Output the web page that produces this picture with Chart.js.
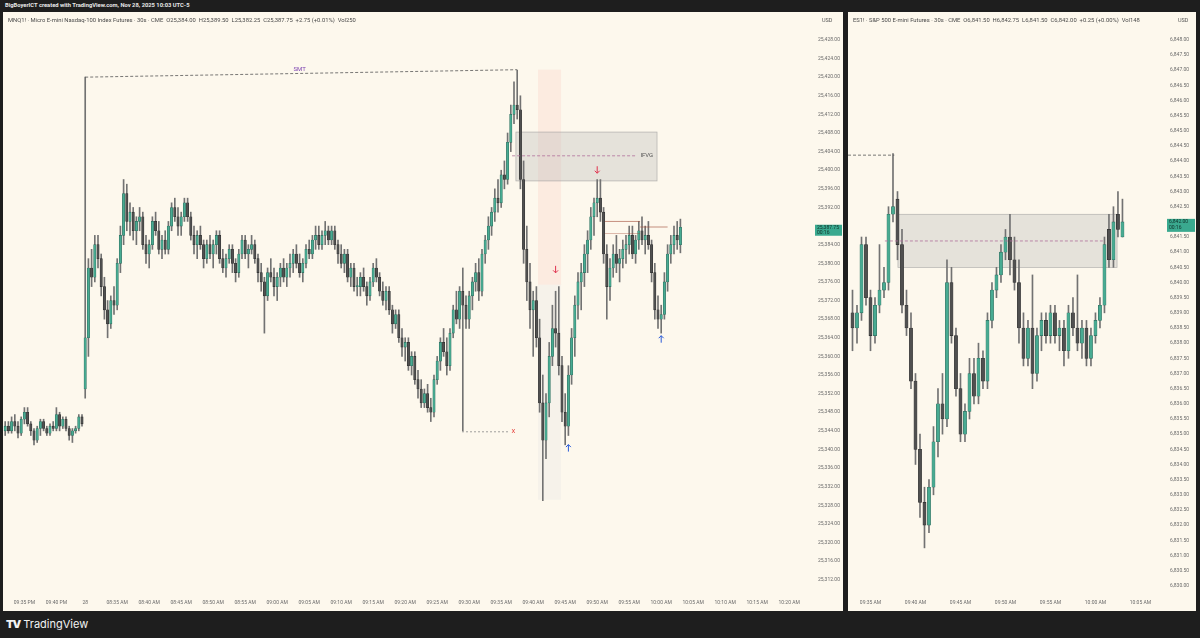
<!DOCTYPE html>
<html>
<head>
<meta charset="utf-8">
<script src="https://cdn.jsdelivr.net/npm/chart.js@4.4.1/dist/chart.umd.min.js"></script>
<style>
  body { margin: 0; width: 1200px; height: 638px; overflow: hidden; background: #1e1e1e; font-family: Roboto, "Liberation Sans", sans-serif; }
  #top { position: absolute; left: 5px; top: 2px; color: #e8e8e8; font-size: 5.8px; font-weight: bold; white-space: nowrap; }
  .pane { position: absolute; top: 12px; height: 599px; background: #fdf8ed; }
  #paneL { left: 3px; width: 840px; }
  #paneR { left: 848px; width: 348px; }
  .pane canvas { position: absolute; left: 0; top: 0; }
  .legend { position: absolute; left: 5px; top: 5px; font-size: 5.85px; color: #4a4a4a; white-space: nowrap; }
  .usd { position: absolute; top: 5px; font-size: 5.5px; color: #555; }
  #logo { position: absolute; left: 6px; top: 617px; color: #f2f2f2; font-size: 11px; font-family: Inter, Roboto, sans-serif; white-space: nowrap; }
  #logo b { font-weight: 900; letter-spacing: -1px; margin-right: 3px; }
</style>
</head>
<body>
<div id="top">BigBoyerICT created with TradingView.com, Nov 28, 2025 10:03 UTC-5</div>
<div class="pane" id="paneL">
  <canvas id="chartL" width="840" height="599"></canvas>
  <div class="legend">MNQ1! · Micro E-mini Nasdaq-100 Index Futures · 30s · CME &nbsp;O25,384.00 &nbsp;H25,389.50 &nbsp;L25,382.25 &nbsp;C25,387.75 &nbsp;+2.75 (+0.01%) &nbsp;Vol250</div>
  <div class="usd" style="left:819px">USD</div>
</div>
<div class="pane" id="paneR">
  <canvas id="chartR" width="348" height="599"></canvas>
  <div class="legend">ES1! · S&amp;P 500 E-mini Futures · 30s · CME &nbsp;O6,841.50 &nbsp;H6,842.75 &nbsp;L6,841.50 &nbsp;C6,842.00 &nbsp;+0.25 (+0.00%) &nbsp;Vol148</div>
  <div class="usd" style="left:330px">USD</div>
</div>
<div id="logo"><b>TV</b>TradingView</div>
<script>
// ---- MNQ1! 30s (left) ----
const leftFirstBar = 1;
const leftOpen = [
25344,25345,25344,25346,25345,25343.5,25346.5,25348,25345.5,25344,25342,25344.5,25346,25344.5,25343.5,25345,25344.5,25347.5,25345,25346.5,25344.5,25343,25344,25344.5,25347,
25353,25364,25379,25377,25384,25381,25375,25370,25367,25372,25371,25380,25386,25395,25389,25391,25387,25389,25390,25384,25382,25384,25389,25387,25383,
25385,25383,25388,25392,25390,25388,25390,25393,25390,25386,25384,25386,25384,25381,25384,25382,25384,25386,25381,25379,25381,25383,25380,25378,25382,
25385,25382,25383,25384,25381,25378,25376,25373,25378,25377,25375,25377,25379,25377,25379,25380,25382,25380,25378,25380,25383,25382,25385,25386,25384,
25386,25387,25385,25387,25384,25382,25380,25382,25377,25379,25375,25375,25377,25375,25373,25376,25379,25377,25374,25372,25374,25370,25367,25369,25364,25362,
25363,25358,25360,25355,25353,25350,25352,25349,25348,25355,25359,25363,25361,25358,25365,25370,25368,25374,25371,25368,25373,25376,25378,25374,25382,
25385,25388,25391,25394,25393,25399,25398,25406,25412,25414,25413,25398,25383,25376,25370,25372,25364,25350,25342,25350,25360,25366,25365,25358,25348,
25345,25356,25364,25371,25376,25378,25382,25385,25390,25393,25394,25391,25382,25375,25379,25382,25380,25381,25383,25384,25386,25382,25385,25387,25385,
25386,25384,25378,25370,25368,25369,25376,25382,25384,25386,25384];
const leftHigh = [
25346,25346,25347,25347.5,25346,25347,25349,25349,25346,25344.5,25345,25346.5,25346.5,25345,25345.5,25346,25349,25348,25347,25347,25345,25344.5,25345,25347.5,25347.5,
25420,25381,25383,25386,25386,25382,25377,25372,25373,25375,25381,25388,25398,25397,25393,25392,25390,25392,25391,25386,25385,25390,25391,25389,25386,
25387,25389,25393,25394,25392,25391,25394,25394,25391,25388,25387,25388,25385,25385,25386,25385,25387,25387,25383,25382,25384,25384,25381,25383,25386,
25386,25384,25386,25385,25382,25380,25377,25379,25381,25379,25378,25380,25381,25380,25382,25383,25384,25382,25381,25384,25385,25386,25388,25388,25387,
25389,25388,25388,25388,25385,25384,25383,25383,25380,25380,25377,25378,25379,25376,25377,25380,25381,25378,25376,25375,25375,25371,25370,25370,25366,25364,
25364,25361,25361,25357,25355,25353,25354,25351,25356,25360,25364,25366,25364,25366,25371,25374,25375,25379,25373,25374,25377,25380,25381,25383,25386,
25390,25392,25396,25398,25400,25402,25408,25414,25419,25421.5,25416,25402,25388,25380,25374,25375,25368,25356,25352,25363,25371,25374,25375,25360,25352,
25358,25366,25373,25378,25380,25384,25387,25392,25394,25398,25398,25392,25384,25381,25384,25386,25383,25385,25386,25388,25388,25386,25389,25390,25388,
25389,25385,25380,25373,25371,25378,25384,25386,25388,25389,25389.5];
const leftLow = [
25343,25343.5,25343.5,25344,25342.5,25343,25345.5,25345,25343,25341,25341.5,25343,25344,25343,25343,25344,25344,25344,25344.5,25344,25342,25341.5,25343.5,25344,25345,
25351,25360,25375,25376,25379,25373,25368,25364,25366,25369,25370,25378,25384,25387,25386,25385,25384,25387,25383,25380,25379,25383,25386,25382,25381,
25382,25382,25387,25389,25386,25386,25389,25389,25385,25382,25381,25383,25379,25380,25381,25379,25382,25380,25378,25377,25380,25378,25376,25377,25381,
25381,25379,25382,25380,25376,25374,25365,25372,25376,25373,25372,25375,25376,25375,25377,25378,25379,25377,25376,25379,25381,25381,25383,25383,25383,
25384,25384,25384,25383,25380,25379,25378,25376,25375,25374,25373,25373,25374,25371,25372,25375,25376,25373,25371,25370,25369,25365,25366,25363,25360,25359,
25357,25356,25354,25351,25349,25349,25348,25346,25347,25354,25357,25360,25356,25357,25364,25367,25366,25344,25366,25366,25370,25374,25372,25373,25380,
25383,25386,25389,25391,25392,25396,25397,25404,25410,25411,25396,25380,25372,25366,25360,25362,25348,25329,25338,25347,25358,25362,25356,25346,25341,
25343,25354,25360,25368,25370,25375,25378,25383,25386,25390,25389,25380,25368,25372,25377,25378,25376,25379,25380,25382,25381,25380,25383,25384,25382,
25383,25376,25368,25366,25365,25368,25374,25380,25382,25383,25382.25];
const leftClose = [
25345,25344,25346,25345,25343.5,25346.5,25348,25345.5,25344,25342,25344.5,25346,25344.5,25343.5,25345,25344.5,25347.5,25345,25346.5,25344.5,25343,25344,25344.5,25347,25345.5,
25364,25379,25377,25384,25381,25375,25370,25367,25372,25371,25380,25386,25395,25389,25391,25387,25389,25390,25384,25382,25384,25389,25387,25383,25385,
25383,25388,25392,25390,25388,25390,25393,25390,25386,25384,25386,25384,25381,25384,25382,25384,25386,25381,25379,25381,25383,25380,25378,25382,25385,
25382,25383,25384,25381,25378,25376,25373,25378,25377,25375,25377,25379,25377,25379,25380,25382,25380,25378,25380,25383,25382,25385,25386,25384,25386,
25387,25385,25387,25384,25382,25380,25382,25377,25379,25375,25375,25377,25375,25373,25376,25379,25377,25374,25372,25374,25370,25367,25369,25364,25362,25363,
25358,25360,25355,25353,25350,25352,25349,25348,25355,25359,25363,25361,25358,25365,25370,25368,25374,25371,25368,25373,25376,25378,25374,25382,25385,
25388,25391,25394,25393,25399,25398,25406,25412,25414,25413,25398,25383,25376,25370,25372,25364,25350,25342,25350,25360,25366,25365,25358,25348,25345,
25356,25364,25371,25376,25378,25382,25385,25390,25393,25394,25391,25382,25375,25379,25382,25380,25381,25383,25384,25386,25382,25385,25387,25385,25386,
25384,25378,25370,25368,25369,25376,25382,25384,25386,25385,25387.75];
const leftPriceTicks = [25312,25316,25320,25324,25328,25332,25336,25340,25344,25348,25352,25356,25360,25364,25368,25372,25376,25380,25384,25392,25396,25400,25404,25408,25412,25416,25420,25424,25428];
const leftTimeBars = [7,17,26,36,46,56,66,76,86,96,106,116,126,136,146,156,166,176,186,196,206,216,226,236,246];
const leftTimeLabels = ['09:35 PM','09:40 PM','28','08:35 AM','08:40 AM','08:45 AM','08:50 AM','08:55 AM','09:00 AM','09:05 AM','09:10 AM','09:15 AM','09:20 AM','09:25 AM','09:30 AM','09:35 AM','09:40 AM','09:45 AM','09:50 AM','09:55 AM','10:00 AM','10:05 AM','10:10 AM','10:15 AM','10:20 AM'];

// ---- ES1! 30s (right) ----
const rightFirstBar = 6;
const rightOpen = [6839,6838.5,6839,6841.25,6839.5,6838.25,6839.25,6839.75,6840,6842.25,
6842.75,6841.25,6839.25,6838.5,6836.75,6834.5,6832.75,6832,6833.25,6834.75,
6836,6835.5,6840,6838.25,6836.5,6835,6835.75,6837,6836.25,6837.5,
6836.75,6838.75,6839.75,6840.25,6841,6841.5,6840.75,6840,6838.5,6837.5,
6838.5,6837,6838.25,6838.75,6838.25,6839,6838.25,6838.5,6837.75,6839,
6838.5,6838,6838.5,6837.5,6838.25,6838.75,6839.25,6841.75,6840.75,6842.25,6841.5];
const rightHigh = [6839.75,6839.25,6841.5,6841.5,6839.75,6839.5,6841.25,6840.5,6842.5,6844.25,
6843,6841.75,6839.75,6839,6837,6835,6833.25,6833.5,6835.25,6836.5,
6837,6840.75,6840.5,6838.5,6837,6836,6837.5,6837.5,6838,6837.75,
6839,6840,6840.5,6841.25,6841.75,6842.25,6841.5,6840.75,6839,6838.75,
6840.25,6838.5,6839,6839,6839.25,6839.25,6838.75,6838.75,6839.25,6839.5,
6840.25,6838.75,6838.75,6838.5,6839,6839.5,6841.5,6842.25,6842.5,6843,6842.75];
const rightLow = [6837.75,6838,6838.75,6839.25,6837.75,6838,6839,6839.5,6839.75,6842,
6840.75,6839,6838.25,6836.5,6834,6832.25,6831.25,6831.75,6833,6834.25,
6835,6835.25,6838,6836.25,6834.75,6834.75,6835.5,6836,6836,6836.5,
6836.5,6838.5,6839.5,6840,6840.75,6840.25,6839.75,6838,6837.25,6837.25,
6836.5,6836.75,6837.75,6838,6838,6838,6837.75,6837.25,6837.5,6838.25,
6837.75,6837.5,6837.25,6837.25,6838,6838.5,6839,6840.5,6840.5,6841.5,6841.5];
const rightClose = [6838.5,6839,6841.25,6839.5,6838.25,6839.25,6839.75,6840,6842.25,6842.5,
6841.25,6839.25,6838.5,6836.75,6834.5,6832.75,6832,6833.25,6834.75,6836,
6835.5,6840,6838.25,6836.5,6835,6835.75,6837,6836.25,6837.5,6836.75,
6838.75,6839.75,6840.25,6841,6841.5,6840.75,6840,6838.5,6837.5,6838.5,
6837,6838.25,6838.75,6838.25,6839,6838.25,6838.5,6837.75,6839,6838.5,
6838,6838.5,6837.5,6838.25,6838.75,6839.25,6841.25,6840.75,6842,6841.75,6842];
const rightPriceTicks = [6830,6830.5,6831,6831.5,6832,6832.5,6833,6833.5,6834,6834.5,6835,6835.5,6836,6836.5,6837,6837.5,6838,6838.5,6839,6839.5,6840,6840.5,6841,6841.5,6842.5,6843,6843.5,6844,6844.5,6845,6845.5,6846,6846.5,6847,6847.5,6848];
const rightTimeBars = [10,20,30,40,50,60,70];
const rightTimeLabels = ['09:35 AM','09:40 AM','09:45 AM','09:50 AM','09:55 AM','10:00 AM','10:05 AM'];

// drawings, in bar / price units
const leftDrawings = {
  boxes: [
    {x0: 167.5, x1: 174.7, y0: 25375.4, y1: 25421.6, fill: 'rgba(252,222,212,0.5)'},
    {x0: 167.5, x1: 174.7, y0: 25329.2, y1: 25375.4, fill: 'rgba(232,232,228,0.35)'},
    {x0: 160.6, x1: 204.7, y0: 25397.7, y1: 25408.2, fill: 'rgba(175,175,175,0.3)', stroke: 'rgba(150,150,150,0.7)'}
  ],
  lines: [
    {x0: 26, y0: 25420, x1: 161, y1: 25421.6, color: '#555', dash: [3, 2]},
    {x0: 159.4, y0: 25403.1, x1: 198.4, y1: 25403.1, color: '#b0709a', dash: [3, 2]},
    {x0: 143.75, y0: 25343.8, x1: 158.7, y1: 25343.8, color: '#888', dash: [2, 2]},
    {x0: 188.4, y0: 25389.0, x1: 199.4, y1: 25389.0, color: 'rgba(160,70,50,0.75)', dash: []},
    {x0: 199.4, y0: 25387.8, x1: 208.0, y1: 25387.8, color: 'rgba(160,70,50,0.75)', dash: []},
    {x0: 188.4, y0: 25386.4, x1: 199.4, y1: 25386.4, color: 'rgba(160,70,50,0.45)', dash: []}
  ],
  texts: [
    {x: 93, y: 25421, text: 'SMT', color: '#7a3fb0'},
    {x: 201.5, y: 25403.1, text: 'IFVG', color: '#555'},
    {x: 159.8, y: 25343.8, text: 'X', color: '#e53935'}
  ],
  arrows: [
    {x: 173, y: 25378.6, dir: 'down', color: '#e0334f'},
    {x: 186, y: 25400, dir: 'down', color: '#e0334f'},
    {x: 177, y: 25340.4, dir: 'up', color: '#2a5bd7'},
    {x: 206, y: 25363.8, dir: 'up', color: '#2a5bd7'}
  ],
  last: {price: 25387.75, timer: '00:16', top: 2.5, bottom: 8.5}
};
const rightDrawings = {
  boxes: [
    {x0: 16.1, x1: 64.8, y0: 6840.5, y1: 6842.25, fill: 'rgba(175,175,175,0.3)', stroke: 'rgba(150,150,150,0.7)'}
  ],
  lines: [
    {x0: 5, y0: 6844.2, x1: 15.3, y1: 6844.2, color: '#555', dash: [3, 2]},
    {x0: 13.2, y0: 6841.37, x1: 61.7, y1: 6841.37, color: '#b0709a', dash: [3, 2]}
  ],
  texts: [],
  arrows: [],
  last: {price: 6842.00, timer: '00:16', top: 3, bottom: 10}
};

const UP = '#48ab92', UP_B = '#2e6e5f', DN = '#505050', DN_B = '#2f2f2f', WICK = '#727272';
const FONT = {family: 'Roboto, "Liberation Sans", sans-serif', size: 5};

function fmt(v) {
  return v.toLocaleString('en-US', {minimumFractionDigits: 2, maximumFractionDigits: 2});
}

function drawingsPlugin(d, tagLeft) {
  return {
    id: 'drawings',
    beforeDatasetsDraw(chart) {
      const ctx = chart.ctx, xs = chart.scales.x, ys = chart.scales.y;
      ctx.save();
      d.boxes.forEach(b => {
        const x0 = xs.getPixelForValue(b.x0), x1 = xs.getPixelForValue(b.x1);
        const y0 = ys.getPixelForValue(b.y1), y1 = ys.getPixelForValue(b.y0);
        ctx.fillStyle = b.fill;
        ctx.fillRect(x0, y0, x1 - x0, y1 - y0);
        if (b.stroke) {
          ctx.strokeStyle = b.stroke;
          ctx.lineWidth = 0.7;
          ctx.strokeRect(x0, y0, x1 - x0, y1 - y0);
        }
      });
      ctx.restore();
    },
    afterDatasetsDraw(chart) {
      const ctx = chart.ctx, xs = chart.scales.x, ys = chart.scales.y, area = chart.chartArea;
      ctx.save();
      d.lines.forEach(l => {
        ctx.strokeStyle = l.color;
        ctx.lineWidth = 0.8;
        ctx.setLineDash(l.dash);
        ctx.beginPath();
        ctx.moveTo(xs.getPixelForValue(l.x0), ys.getPixelForValue(l.y0));
        ctx.lineTo(xs.getPixelForValue(l.x1), ys.getPixelForValue(l.y1));
        ctx.stroke();
      });
      ctx.setLineDash([]);
      ctx.font = '6px Roboto, sans-serif';
      ctx.textBaseline = 'middle';
      d.texts.forEach(t => {
        ctx.fillStyle = t.color;
        ctx.textAlign = 'center';
        ctx.fillText(t.text, xs.getPixelForValue(t.x), ys.getPixelForValue(t.y) - (t.text === 'SMT' ? 3 : 0));
      });
      d.arrows.forEach(a => {
        const x = xs.getPixelForValue(a.x), y = ys.getPixelForValue(a.y);
        const s = a.dir === 'down' ? 1 : -1;
        ctx.strokeStyle = a.color;
        ctx.lineWidth = 1;
        ctx.beginPath();
        ctx.moveTo(x, y - 4 * s);
        ctx.lineTo(x, y + 3 * s);
        ctx.moveTo(x - 2.5, y + 0.5 * s);
        ctx.lineTo(x, y + 3 * s);
        ctx.lineTo(x + 2.5, y + 0.5 * s);
        ctx.stroke();
      });
      // last price tag on the axis
      const py = ys.getPixelForValue(d.last.price);
      const x0 = area.right + tagLeft;
      ctx.fillStyle = '#3aa98f';
      ctx.fillRect(x0, py - d.last.top, chart.width - x0 - 1, d.last.top + d.last.bottom);
      ctx.fillStyle = '#10332b';
      ctx.font = '5px Roboto, sans-serif';
      ctx.textAlign = 'left';
      ctx.fillText(fmt(d.last.price), x0 + 2, py + 0.3);
      ctx.fillText(d.last.timer, x0 + 2, py + 5.6);
      ctx.restore();
    }
  };
}

function candleChart(id, firstBar, O, H, L, C, opt) {
  const bars = C.map((c, k) => firstBar + k);
  const up = C.map((c, k) => c >= O[k]);
  return new Chart(document.getElementById(id), {
    type: 'bar',
    data: {
      datasets: [
        {
          data: bars.map((x, k) => ({x: x, y: [L[k], H[k]]})),
          barThickness: 1, backgroundColor: WICK, grouped: false, order: 1
        },
        {
          data: bars.map((x, k) => ({x: x, y: [O[k], C[k]]})),
          barThickness: opt.body, minBarLength: 1, grouped: false, order: 0,
          backgroundColor: up.map(u => u ? UP : DN),
          borderColor: up.map(u => u ? UP_B : DN_B),
          borderWidth: 0.6, borderSkipped: false
        }
      ]
    },
    options: {
      responsive: false, animation: false, events: [],
      layout: {padding: 0},
      plugins: {legend: {display: false}, tooltip: {enabled: false}},
      scales: {
        x: {
          type: 'linear', offset: false, min: opt.xMin, max: opt.xMax,
          grid: {display: false, drawTicks: false}, border: {display: false},
          afterBuildTicks: s => { s.ticks = opt.timeBars.map(v => ({value: v})); },
          afterFit: s => { s.height = 14; s.paddingLeft = 0; s.paddingRight = 0; },
          ticks: {
            autoSkip: false, maxRotation: 0, padding: 3, color: '#6b6b6b', font: FONT,
            callback: v => opt.timeLabels[opt.timeBars.indexOf(v)]
          }
        },
        y: {
          type: 'linear', position: 'right', min: opt.yMin, max: opt.yMax,
          grid: {display: false, drawTicks: false}, border: {display: false},
          afterBuildTicks: s => { s.ticks = opt.priceTicks.map(v => ({value: v})); },
          afterFit: s => { s.width = opt.axisW; s.paddingTop = 0; s.paddingBottom = 0; },
          ticks: {autoSkip: false, crossAlign: 'near', padding: opt.labelPad, color: '#6b6b6b', font: FONT, callback: v => fmt(v)}
        }
      }
    },
    plugins: [drawingsPlugin(opt.drawings, opt.labelPad - 3)]
  });
}

candleChart('chartL', leftFirstBar, leftOpen, leftHigh, leftLow, leftClose, {
  body: 2.4, xMin: 0.3125, xMax: 250.3125, yMin: 25308.3, yMax: 25434.0, axisW: 40, labelPad: 15,
  timeBars: leftTimeBars, timeLabels: leftTimeLabels, priceTicks: leftPriceTicks, drawings: leftDrawings
});
candleChart('chartR', rightFirstBar, rightOpen, rightHigh, rightLow, rightClose, {
  body: 3.2, xMin: 5, xMax: 73.9, yMin: 6829.63, yMax: 6848.92, axisW: 38, labelPad: 12,
  timeBars: rightTimeBars, timeLabels: rightTimeLabels, priceTicks: rightPriceTicks, drawings: rightDrawings
});
</script>
</body>
</html>
